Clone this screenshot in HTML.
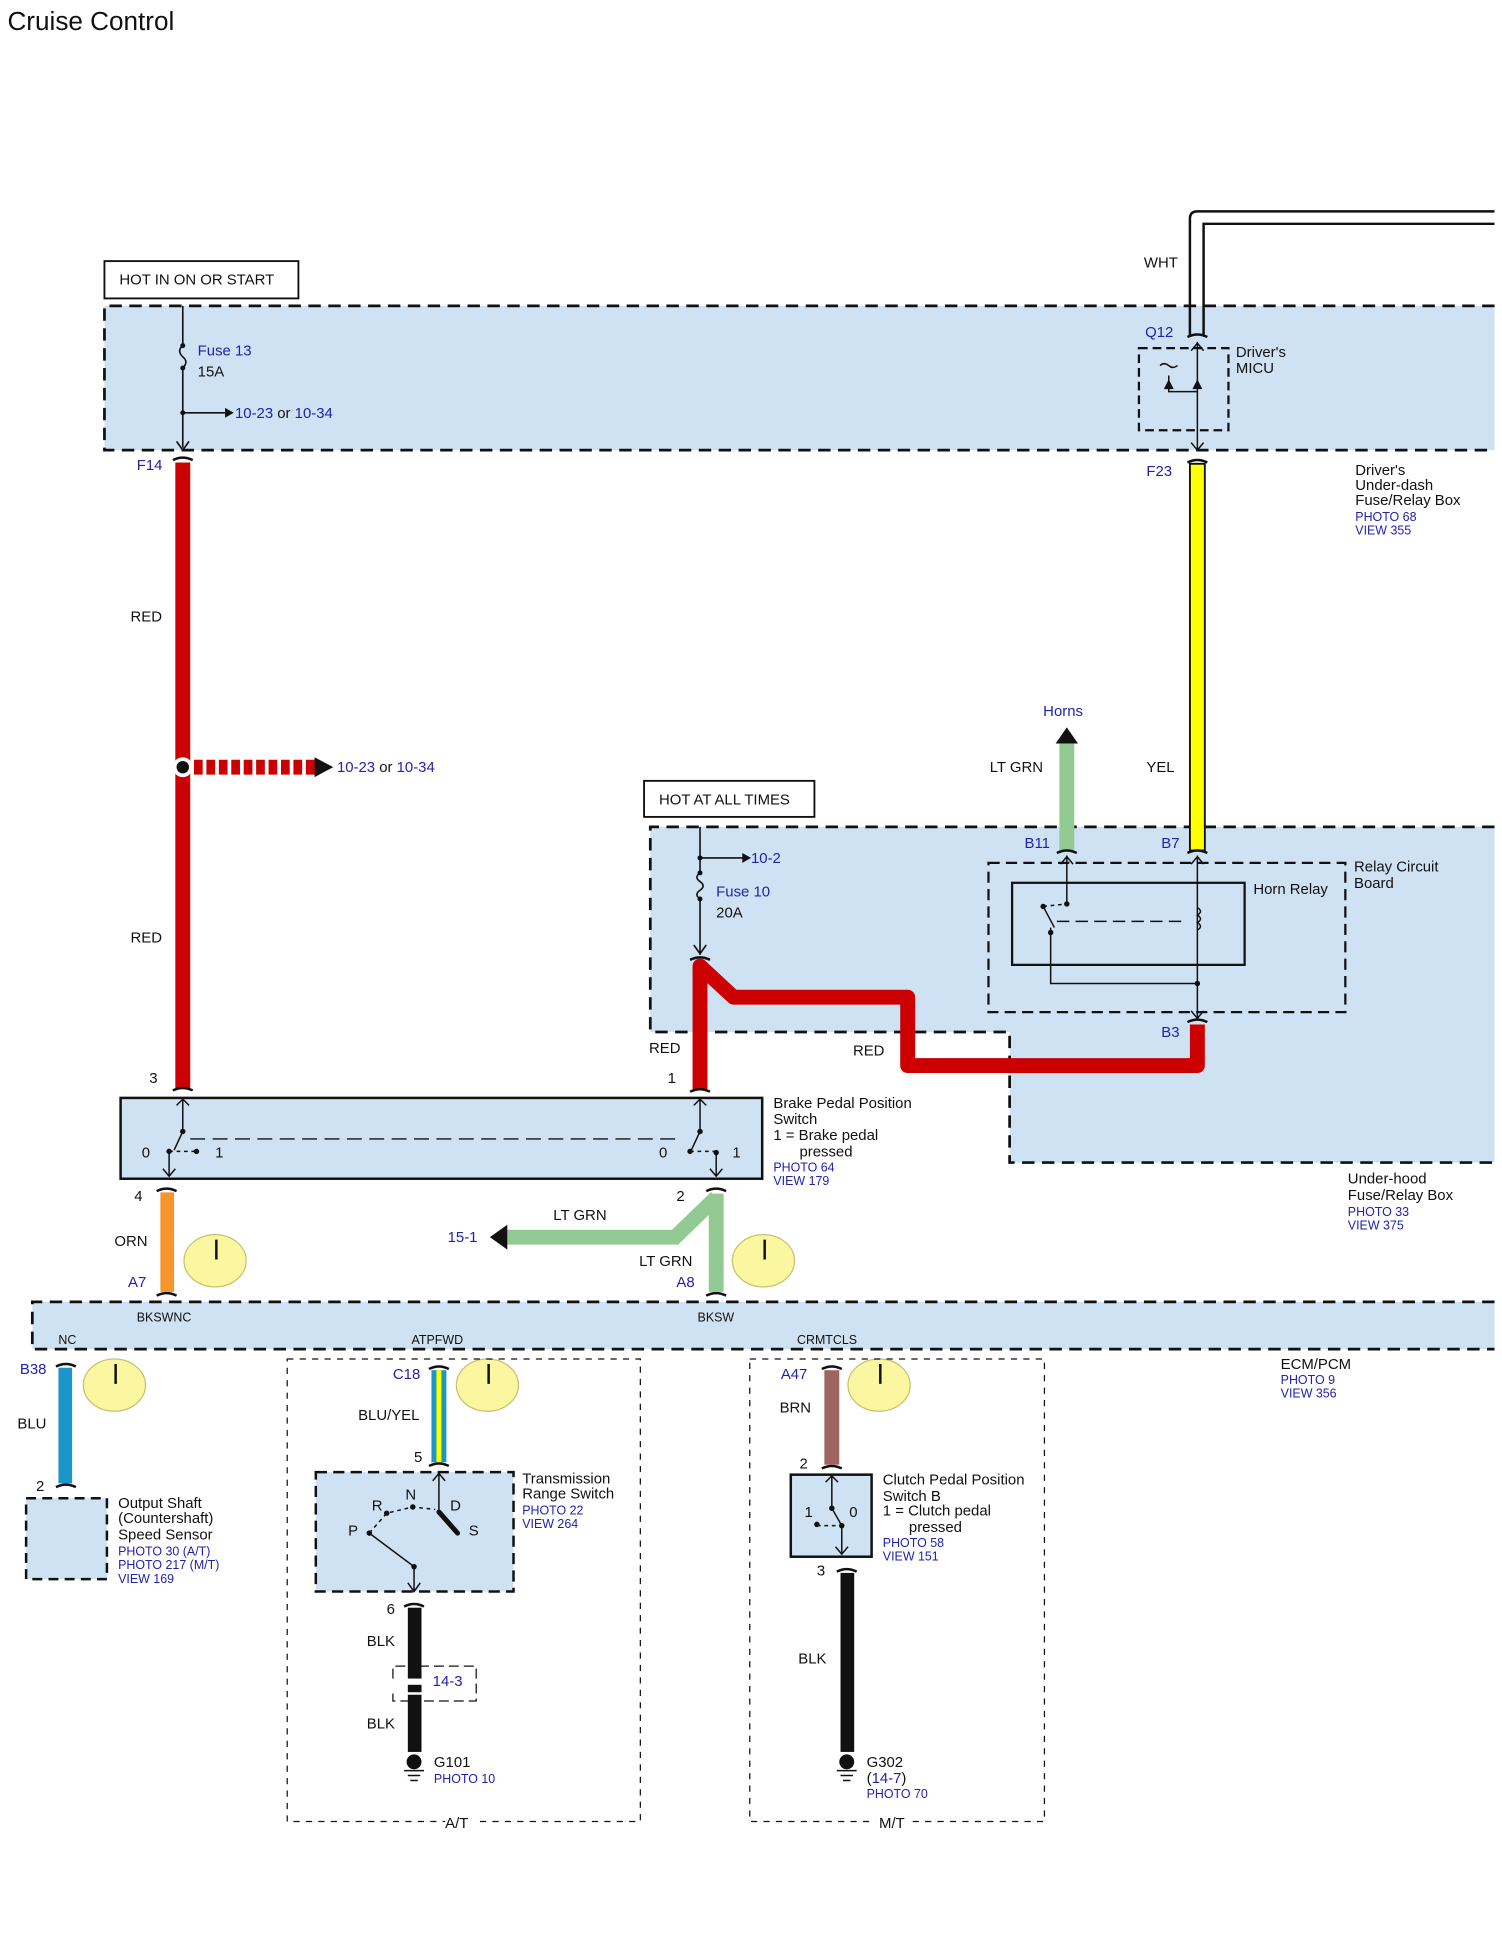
<!DOCTYPE html>
<html><head><meta charset="utf-8"><style>
html,body{margin:0;padding:0;background:#fff;}
svg{display:block;}
text{font-family:"Liberation Sans",sans-serif;font-size:12px;fill:#111;}
.b{fill:#2222aa;}
.s{font-size:10px;}
</style></head><body>
<svg width="1502" height="1950" viewBox="0 0 1208 1568.3" preserveAspectRatio="none" xmlns="http://www.w3.org/2000/svg">
<rect width="1208" height="1569" fill="#fff"/>
<text x="6" y="24" style="font-size:21px">Cruise Control</text>

<!-- Under-dash box -->
<path d="M1202 246 H84 V362 H1202" fill="#cfe2f3" stroke="#111" stroke-width="2.2" stroke-dasharray="10,6"/>
<rect x="84" y="210" width="156" height="30" fill="#fff" stroke="#111" stroke-width="1.5"/>
<text x="96" y="229">HOT IN ON OR START</text>

<!-- Under-hood box -->
<path d="M1202 665 H523 V830 H812 V935 H1202" fill="#cfe2f3" stroke="#111" stroke-width="2.2" stroke-dasharray="10,6"/>
<rect x="518" y="628" width="137" height="29" fill="#fff" stroke="#111" stroke-width="1.5"/>
<text x="530" y="647">HOT AT ALL TIMES</text>

<!-- ECM box -->
<path d="M1202 1047 H26 V1085 H1202" fill="#cfe2f3" stroke="#111" stroke-width="2.2" stroke-dasharray="10,6"/>

<!-- Fuse 13 -->
<g stroke="#111" stroke-width="1.3" fill="none">
<path d="M147 246 V278 M147 296 V360"/>
<path d="M147 278 q-5 4 0 9 q5 4 0 9"/>
<path d="M147 332 H182"/>
<path d="M142 355 L147 362 L152 355"/>
</g>
<circle cx="147" cy="278" r="2" fill="#111"/><circle cx="147" cy="296" r="2" fill="#111"/><circle cx="147" cy="332" r="2" fill="#111"/>
<path d="M181 328 L188 332 L181 336Z" fill="#111"/>
<text x="159" y="286" class="b">Fuse 13</text>
<text x="159" y="303">15A</text>
<text x="189" y="336"><tspan class="b">10-23</tspan> or <tspan class="b">10-34</tspan></text>
<text x="110" y="378" class="b">F14</text>

<!-- red main wire -->
<rect x="141" y="372" width="12" height="503" fill="#cc0000"/>
<path d="M139 370 q8 -4 16 0" stroke="#111" stroke-width="2" fill="none"/>
<path d="M139 877 q8 -4 16 0" stroke="#111" stroke-width="2" fill="none"/>
<text x="105" y="500">RED</text>
<text x="105" y="758">RED</text>
<line x1="156" y1="617" x2="256" y2="617" stroke="#cc0000" stroke-width="12" stroke-dasharray="7,3"/>
<path d="M253 609 L268 617 L253 625Z" fill="#111"/>
<circle cx="147" cy="617" r="8" fill="#fff"/><circle cx="147" cy="617" r="5" fill="#111"/>
<text x="271" y="621"><tspan class="b">10-23</tspan> or <tspan class="b">10-34</tspan></text>

<!-- WHT wire -->
<path d="M957 270 V176 q0 -6 6 -6 H1202" stroke="#111" stroke-width="2" fill="none"/>
<path d="M968 270 V180 H1202" stroke="#111" stroke-width="2" fill="none"/>
<text x="920" y="215">WHT</text>
<text x="921" y="271" class="b">Q12</text>
<path d="M955 271 q8 -4 16 0" stroke="#111" stroke-width="2" fill="none"/>
<!-- MICU -->
<rect x="916" y="280" width="72" height="66" fill="none" stroke="#111" stroke-width="1.8" stroke-dasharray="7,4"/>
<g stroke="#111" stroke-width="1.2" fill="none">
<path d="M963 275 V362 M958 282 L963 276 L968 282 M958 356 L963 362 L968 356"/>
<path d="M940 302 V315 H963"/>
<path d="M933 294 q3 -3 7 0 q3 3 7 0"/>
</g>
<path d="M936 313 L940 305 L944 313Z M959 313 L963 305 L967 313Z" fill="#111"/>
<text x="994" y="287">Driver's</text><text x="994" y="300">MICU</text>
<text x="922" y="383" class="b">F23</text>
<path d="M955 372 q8 -4 16 0" stroke="#111" stroke-width="2" fill="none"/>
<rect x="957" y="373" width="12" height="311" fill="#ffff00" stroke="#111" stroke-width="1.5"/>
<path d="M955 686 q8 -4 16 0" stroke="#111" stroke-width="2" fill="none"/>
<text x="1090" y="382">Driver's</text><text x="1090" y="394">Under-dash</text><text x="1090" y="406">Fuse/Relay Box</text>
<text x="1090" y="419" class="b s">PHOTO 68</text><text x="1090" y="430" class="b s">VIEW 355</text>

<!-- Horns -->
<rect x="852" y="598" width="12" height="86" fill="#93c993"/>
<path d="M849 598 L858 585 L867 598Z" fill="#111"/>
<path d="M850 686 q8 -4 16 0" stroke="#111" stroke-width="2" fill="none"/>
<text x="839" y="576" class="b">Horns</text>
<text x="796" y="621">LT GRN</text>
<text x="922" y="621">YEL</text>
<text x="824" y="682" class="b">B11</text>
<text x="934" y="682" class="b">B7</text>

<!-- Relay board -->
<rect x="795" y="694" width="287" height="120" fill="none" stroke="#111" stroke-width="1.8" stroke-dasharray="9,5"/>
<rect x="814" y="710" width="187" height="66" fill="none" stroke="#111" stroke-width="1.8"/>
<g stroke="#111" stroke-width="1.2" fill="none">
<path d="M858 688 V727 M853 695 L858 689 L863 695"/>
<path d="M963 688 V820 M958 695 L963 689 L968 695 M958 813 L963 819 L968 813"/>
<path d="M839 729 L848 746 M845 746 V791 H963"/>
<path d="M839 729 L858 727" stroke-dasharray="3,3"/>
<path d="M850 741 H955" stroke-dasharray="10,5"/>
<path d="M963 730 q5 3 0 6 q5 3 0 6 q5 3 0 6"/>
</g>
<circle cx="839" cy="729" r="2.2" fill="#111"/><circle cx="858" cy="727" r="2.2" fill="#111"/><circle cx="845" cy="750" r="2.2" fill="#111"/><circle cx="963" cy="791" r="2.2" fill="#111"/>
<text x="1008" y="719">Horn Relay</text>
<text x="1089" y="701">Relay Circuit</text><text x="1089" y="714">Board</text>
<text x="934" y="834" class="b">B3</text>
<path d="M955 822 q8 -4 16 0" stroke="#111" stroke-width="2" fill="none"/>

<!-- Fuse 10 -->
<g stroke="#111" stroke-width="1.3" fill="none">
<path d="M563 665 V702 M563 723 V768 M563 690 H598 M558 760 L563 767 L568 760"/>
<path d="M563 702 q-5 3.5 0 7 q5 3.5 0 7 q-5 3.5 0 7"/>
</g>
<circle cx="563" cy="690" r="2" fill="#111"/><circle cx="563" cy="702" r="2" fill="#111"/><circle cx="563" cy="723" r="2" fill="#111"/>
<path d="M597 686 L604 690 L597 694Z" fill="#111"/>
<text x="604" y="694" class="b">10-2</text>
<text x="576" y="721" class="b">Fuse 10</text>
<text x="576" y="738">20A</text>
<path d="M555 772 q8 -4 16 0" stroke="#111" stroke-width="2" fill="none"/>
<path d="M563 876 V777 L590 802 H730 V857 H963 V824" stroke="#cc0000" stroke-width="12" fill="none" stroke-linejoin="round"/>
<text x="522" y="847">RED</text>
<text x="686" y="849">RED</text>
<text x="537" y="871">1</text>
<text x="120" y="871">3</text>
<path d="M555 878 q8 -4 16 0" stroke="#111" stroke-width="2" fill="none"/>

<!-- Brake pedal switch -->
<rect x="97" y="883" width="516" height="65" fill="#cfe2f3" stroke="#111" stroke-width="2"/>
<g stroke="#111" stroke-width="1.2" fill="none">
<path d="M147 884 V910 L140 925 M142 889 L147 884 L152 889"/>
<path d="M136 926 V946 M131 940 L136 946 L141 940"/>
<path d="M136 926 H158" stroke-dasharray="3,3"/>
<path d="M153 916 H548" stroke-dasharray="12,6"/>
<path d="M563 884 V910 L556 925 M558 889 L563 884 L568 889"/>
<path d="M576 927 V946 M571 940 L576 946 L581 940"/>
<path d="M555 926 H576" stroke-dasharray="3,3"/>
</g>
<circle cx="147" cy="910" r="2.2" fill="#111"/><circle cx="136" cy="926" r="2.2" fill="#111"/><circle cx="158" cy="926" r="2.2" fill="#111"/>
<circle cx="563" cy="910" r="2.2" fill="#111"/><circle cx="555" cy="926" r="2.2" fill="#111"/><circle cx="576" cy="927" r="2.2" fill="#111"/>
<text x="114" y="931">0</text><text x="173" y="931">1</text><text x="530" y="931">0</text><text x="589" y="931">1</text>
<text x="622" y="891">Brake Pedal Position</text><text x="622" y="904">Switch</text><text x="622" y="917">1 = Brake pedal</text><text x="643" y="930">pressed</text>
<text x="622" y="942" class="b s">PHOTO 64</text><text x="622" y="953" class="b s">VIEW 179</text>
<text x="1084" y="952">Under-hood</text><text x="1084" y="965">Fuse/Relay Box</text>
<text x="1084" y="978" class="b s">PHOTO 33</text><text x="1084" y="989" class="b s">VIEW 375</text>

<!-- ORN -->
<path d="M126 958 q8 -4 16 0" stroke="#111" stroke-width="2" fill="none"/>
<rect x="129" y="959" width="11" height="80" fill="#f7952e"/>
<path d="M126 1042 q8 -4 16 0" stroke="#111" stroke-width="2" fill="none"/>
<text x="108" y="966">4</text>
<text x="92" y="1002">ORN</text>
<text x="103" y="1035" class="b">A7</text>
<!-- LT GRN -->
<path d="M568 958 q8 -4 16 0" stroke="#111" stroke-width="2" fill="none"/>
<path d="M576 960 V1039 M576 963 L543 995 H408" stroke="#93c993" stroke-width="12" fill="none"/>
<path d="M408 985 L394 995 L408 1005Z" fill="#111"/>
<path d="M568 1042 q8 -4 16 0" stroke="#111" stroke-width="2" fill="none"/>
<text x="544" y="966">2</text>
<text x="445" y="981">LT GRN</text>
<text x="514" y="1018">LT GRN</text>
<text x="544" y="1035" class="b">A8</text>
<text x="360" y="999" class="b">15-1</text>

<!-- yellow circles -->
<g fill="#fbf7a0" stroke="#c8c070" stroke-width="1">
<ellipse cx="173" cy="1014" rx="25" ry="21"/><ellipse cx="614" cy="1014" rx="25" ry="21"/>
<ellipse cx="92" cy="1114" rx="25" ry="21"/><ellipse cx="392" cy="1114" rx="25" ry="21"/><ellipse cx="707" cy="1114" rx="25" ry="21"/>
</g>
<g stroke="#111" stroke-width="2">
<path d="M174 997 V1013 M615 997 V1013 M93 1097 V1113 M393 1097 V1113 M708 1097 V1113"/>
</g>

<!-- ECM labels -->
<text x="110" y="1063" class="s">BKSWNC</text>
<text x="561" y="1063" class="s">BKSW</text>
<text x="47" y="1081" class="s">NC</text>
<text x="331" y="1081" class="s">ATPFWD</text>
<text x="641" y="1081" class="s">CRMTCLS</text>
<text x="1030" y="1101">ECM/PCM</text>
<text x="1030" y="1113" class="b s">PHOTO 9</text><text x="1030" y="1124" class="b s">VIEW 356</text>

<!-- BLU -->
<text x="16" y="1105" class="b">B38</text>
<path d="M45 1099 q8 -4 16 0" stroke="#111" stroke-width="2" fill="none"/>
<rect x="47" y="1100" width="11" height="93" fill="#1a96c8"/>
<path d="M45 1196 q8 -4 16 0" stroke="#111" stroke-width="2" fill="none"/>
<text x="14" y="1149">BLU</text>
<text x="29" y="1199">2</text>
<rect x="21" y="1205" width="65" height="65" fill="#cfe2f3" stroke="#111" stroke-width="2" stroke-dasharray="8,5"/>
<text x="95" y="1213">Output Shaft</text><text x="95" y="1225">(Countershaft)</text><text x="95" y="1238">Speed Sensor</text>
<text x="95" y="1251" class="b s">PHOTO 30 (A/T)</text><text x="95" y="1262" class="b s">PHOTO 217 (M/T)</text><text x="95" y="1273" class="b s">VIEW 169</text>

<!-- A/T box -->
<rect x="231" y="1093" width="284" height="372" fill="none" stroke="#111" stroke-width="1" stroke-dasharray="5,5"/>
<rect x="358" y="1460" width="24" height="12" fill="#fff"/>
<text x="358" y="1470">A/T</text>
<text x="316" y="1109" class="b">C18</text>
<path d="M345 1101 q8 -4 16 0" stroke="#111" stroke-width="2" fill="none"/>
<rect x="347" y="1102" width="12" height="74" fill="#1a96c8"/>
<rect x="351" y="1102" width="4" height="74" fill="#ffff00"/>
<path d="M345 1179 q8 -4 16 0" stroke="#111" stroke-width="2" fill="none"/>
<text x="288" y="1142">BLU/YEL</text>
<text x="333" y="1176">5</text>
<rect x="254" y="1184" width="159" height="96" fill="#cfe2f3" stroke="#111" stroke-width="2" stroke-dasharray="9,5"/>
<g stroke="#111" stroke-width="1.2" fill="none">
<path d="M353 1184 V1216 M348 1191 L353 1185 L358 1191"/>
<path d="M297 1233 L333 1260 V1280 M328 1273 L333 1280 L338 1273"/>
<path d="M297 1233 L311 1217 L332 1212 L350 1214" stroke-dasharray="3,3"/>
</g>
<path d="M353 1216 L368 1233" stroke="#111" stroke-width="4" stroke-linecap="round"/>
<circle cx="297" cy="1233" r="2.2" fill="#111"/><circle cx="311" cy="1217" r="2.2" fill="#111"/><circle cx="332" cy="1212" r="2.2" fill="#111"/><circle cx="333" cy="1260" r="2.2" fill="#111"/>
<text x="280" y="1235">P</text><text x="299" y="1215">R</text><text x="326" y="1206">N</text><text x="362" y="1215">D</text><text x="377" y="1235">S</text>
<text x="420" y="1193">Transmission</text><text x="420" y="1205">Range Switch</text>
<text x="420" y="1218" class="b s">PHOTO 22</text><text x="420" y="1229" class="b s">VIEW 264</text>
<text x="311" y="1298">6</text>
<path d="M325 1292 q8 -4 16 0" stroke="#111" stroke-width="2" fill="none"/>
<rect x="328" y="1293" width="11" height="116" fill="#111"/>
<rect x="326" y="1350" width="15" height="5" fill="#fff"/>
<rect x="326" y="1361" width="15" height="2" fill="#fff"/>
<path d="M316 1350 V1340 H330 M337 1340 H383 V1368 H338 M330 1368 H316 V1360" stroke="#111" stroke-width="1" fill="none" stroke-dasharray="8,4"/>
<text x="348" y="1356" class="b">14-3</text>
<text x="295" y="1324">BLK</text>
<text x="295" y="1390">BLK</text>
<circle cx="333" cy="1417" r="6" fill="#111"/>
<path d="M325 1424 H341 M328 1428 H338 M330 1432 H336" stroke="#111" stroke-width="1.2"/>
<text x="349" y="1421">G101</text>
<text x="349" y="1434" class="b s">PHOTO 10</text>

<!-- M/T box -->
<rect x="603" y="1093" width="237" height="372" fill="none" stroke="#111" stroke-width="1" stroke-dasharray="5,5"/>
<rect x="704" y="1460" width="30" height="12" fill="#fff"/>
<text x="707" y="1470">M/T</text>
<text x="628" y="1109" class="b">A47</text>
<path d="M661 1101 q8 -4 16 0" stroke="#111" stroke-width="2" fill="none"/>
<rect x="663" y="1102" width="12" height="76" fill="#9e6560"/>
<path d="M661 1181 q8 -4 16 0" stroke="#111" stroke-width="2" fill="none"/>
<text x="627" y="1136">BRN</text>
<text x="643" y="1181">2</text>
<rect x="636" y="1186" width="65" height="66" fill="#cfe2f3" stroke="#111" stroke-width="2"/>
<g stroke="#111" stroke-width="1.2" fill="none">
<path d="M669 1187 V1213 L677 1227 V1250 M664 1192 L669 1187 L674 1192 M672 1244 L677 1250 L682 1244"/>
<path d="M657 1227 H677" stroke-dasharray="3,3"/>
</g>
<circle cx="669" cy="1213" r="2.2" fill="#111"/><circle cx="677" cy="1227" r="2.2" fill="#111"/><circle cx="657" cy="1226" r="2.2" fill="#111"/>
<text x="647" y="1220">1</text><text x="683" y="1220">0</text>
<text x="710" y="1194">Clutch Pedal Position</text><text x="710" y="1207">Switch B</text><text x="710" y="1219">1 = Clutch pedal</text><text x="731" y="1232">pressed</text>
<text x="710" y="1244" class="b s">PHOTO 58</text><text x="710" y="1255" class="b s">VIEW 151</text>
<text x="657" y="1267">3</text>
<path d="M673 1264 q8 -4 16 0" stroke="#111" stroke-width="2" fill="none"/>
<rect x="676" y="1265" width="11" height="144" fill="#111"/>
<text x="642" y="1338">BLK</text>
<circle cx="681" cy="1417" r="6" fill="#111"/>
<path d="M673 1424 H689 M676 1428 H686 M678 1432 H684" stroke="#111" stroke-width="1.2"/>
<text x="697" y="1421">G302</text>
<text x="697" y="1434">(<tspan class="b">14-7</tspan>)</text>
<text x="697" y="1446" class="b s">PHOTO 70</text>
</svg>
</body></html>
